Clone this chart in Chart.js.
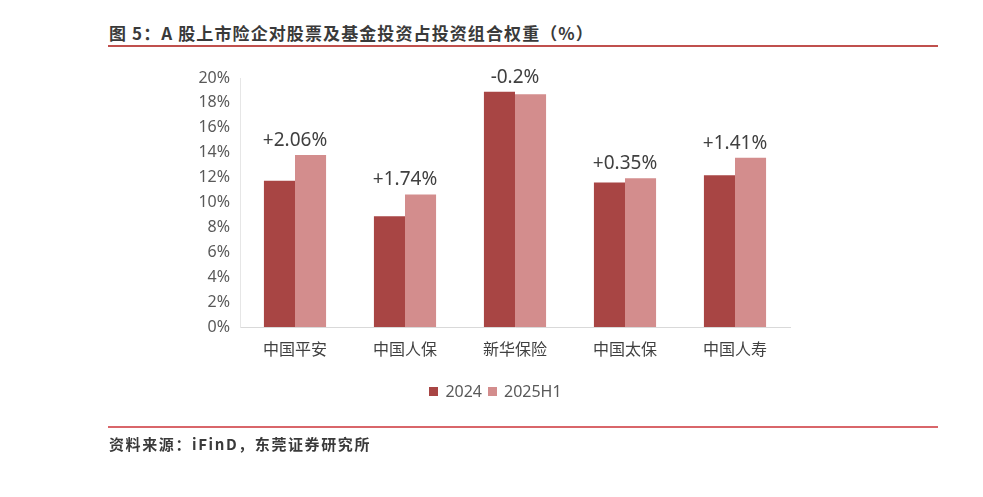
<!DOCTYPE html>
<html>
<head>
<meta charset="utf-8">
<script src="https://cdn.jsdelivr.net/npm/chart.js@4.4.1/dist/chart.umd.min.js"></script>
<style>
  html, body { margin:0; padding:0; background:#fff; width:983px; height:497px; overflow:hidden; }
  #wrap { position:relative; width:983px; height:497px; }
  #c { position:absolute; left:0; top:0; }
  .title { position:absolute; left:109px; top:21px; font-family:"Noto Sans CJK SC", sans-serif; font-weight:bold; font-size:17px; color:#3a3a3a; letter-spacing:1.1px; white-space:nowrap; line-height:24px; }
  .line1 { position:absolute; left:108px; top:45px; width:830px; height:2px; background:#C0504D; }
  .line2 { position:absolute; left:108px; top:426px; width:830px; height:2px; background:#D9666A; }
  .src { position:absolute; left:109px; top:433px; font-family:"Noto Sans CJK SC", sans-serif; font-weight:bold; font-size:15px; color:#3a3a3a; white-space:nowrap; line-height:22px; letter-spacing:1.6px; }
  #legend { position:absolute; left:0; width:983px; top:380px; text-align:center; font-family:"Noto Sans", sans-serif; font-size:16px; color:#595959; line-height:22px; padding-left:8px; box-sizing:border-box; }
  #legend span.item { display:inline-block; margin:0 3px; }
  #legend span.box { display:inline-block; width:9px; height:9px; margin-right:7px; vertical-align:1px; }
</style>
</head>
<body>
<div id="wrap">
  <div class="title">图 5：A 股上市险企对股票及基金投资占投资组合权重（%）</div>
  <div class="line1"></div>
  <canvas id="c" width="983" height="497"></canvas>
  <div id="legend"></div>
  <div class="line2"></div>
  <div class="src">资料来源：iFinD，东莞证券研究所</div>
</div>
<script>
const categories = ["中国平安", "中国人保", "新华保险", "中国太保", "中国人寿"];
const series2024 = [11.75, 8.90, 18.90, 11.60, 12.18];
const series2025H1 = [13.81, 10.64, 18.70, 11.95, 13.59];
const changeLabels = ["+2.06%", "+1.74%", "-0.2%", "+0.35%", "+1.41%"];
const yTicks = [0, 2, 4, 6, 8, 10, 12, 14, 16, 18, 20];
const seriesNames = ["2024", "2025H1"];
const colors = ["#A84544", "#D38D8D"];

const annotate = {
  id: 'annotate',
  afterDatasetsDraw(chart) {
    const ctx = chart.ctx;
    const x = chart.scales.x, y = chart.scales.y;
    ctx.save();
    ctx.font = '19px "Noto Sans", sans-serif';
    ctx.fillStyle = '#404040';
    ctx.textAlign = 'center';
    ctx.textBaseline = 'bottom';
    changeLabels.forEach((t, i) => {
      const top = Math.max(series2024[i], series2025H1[i]);
      ctx.fillText(t, x.getPixelForValue(i), y.getPixelForValue(top) - 5);
    });
    ctx.restore();
  }
};

new Chart(document.getElementById('c'), {
  type: 'bar',
  data: {
    labels: categories,
    datasets: [
      { label: seriesNames[0], data: series2024, backgroundColor: colors[0], categoryPercentage: 0.565, barPercentage: 1.0 },
      { label: seriesNames[1], data: series2025H1, backgroundColor: colors[1], categoryPercentage: 0.565, barPercentage: 1.0 }
    ]
  },
  options: {
    responsive: false,
    animation: false,
    devicePixelRatio: 1,
    layout: { padding: { left: 180, right: 193, top: 78, bottom: 140 } },
    plugins: { legend: { display: false }, tooltip: { enabled: false } },
    scales: {
      x: {
        grid: { display: false, drawTicks: false },
        border: { display: true, color: '#D9D9D9', width: 1 },
        ticks: { color: '#404040', font: { family: '"Noto Sans CJK SC", sans-serif', size: 16 }, padding: 12 },
        afterFit: s => { s.height = 30; }
      },
      y: {
        min: 0, max: 20,
        afterBuildTicks: s => { s.ticks = yTicks.map(v => ({ value: v })); },
        grid: { display: false, drawTicks: false },
        border: { display: true, color: '#E6E6E6', width: 1 },
        ticks: { color: '#595959', font: { family: '"Noto Sans", sans-serif', size: 16 }, padding: 10, callback: v => v + '%' },
        afterFit: s => { s.width = 60; }
      }
    }
  },
  plugins: [annotate]
});

const lg = document.getElementById('legend');
seriesNames.forEach((n, i) => {
  const it = document.createElement('span');
  it.className = 'item';
  const b = document.createElement('span');
  b.className = 'box';
  b.style.background = colors[i];
  it.appendChild(b);
  it.appendChild(document.createTextNode(n));
  lg.appendChild(it);
});
</script>
</body>
</html>
